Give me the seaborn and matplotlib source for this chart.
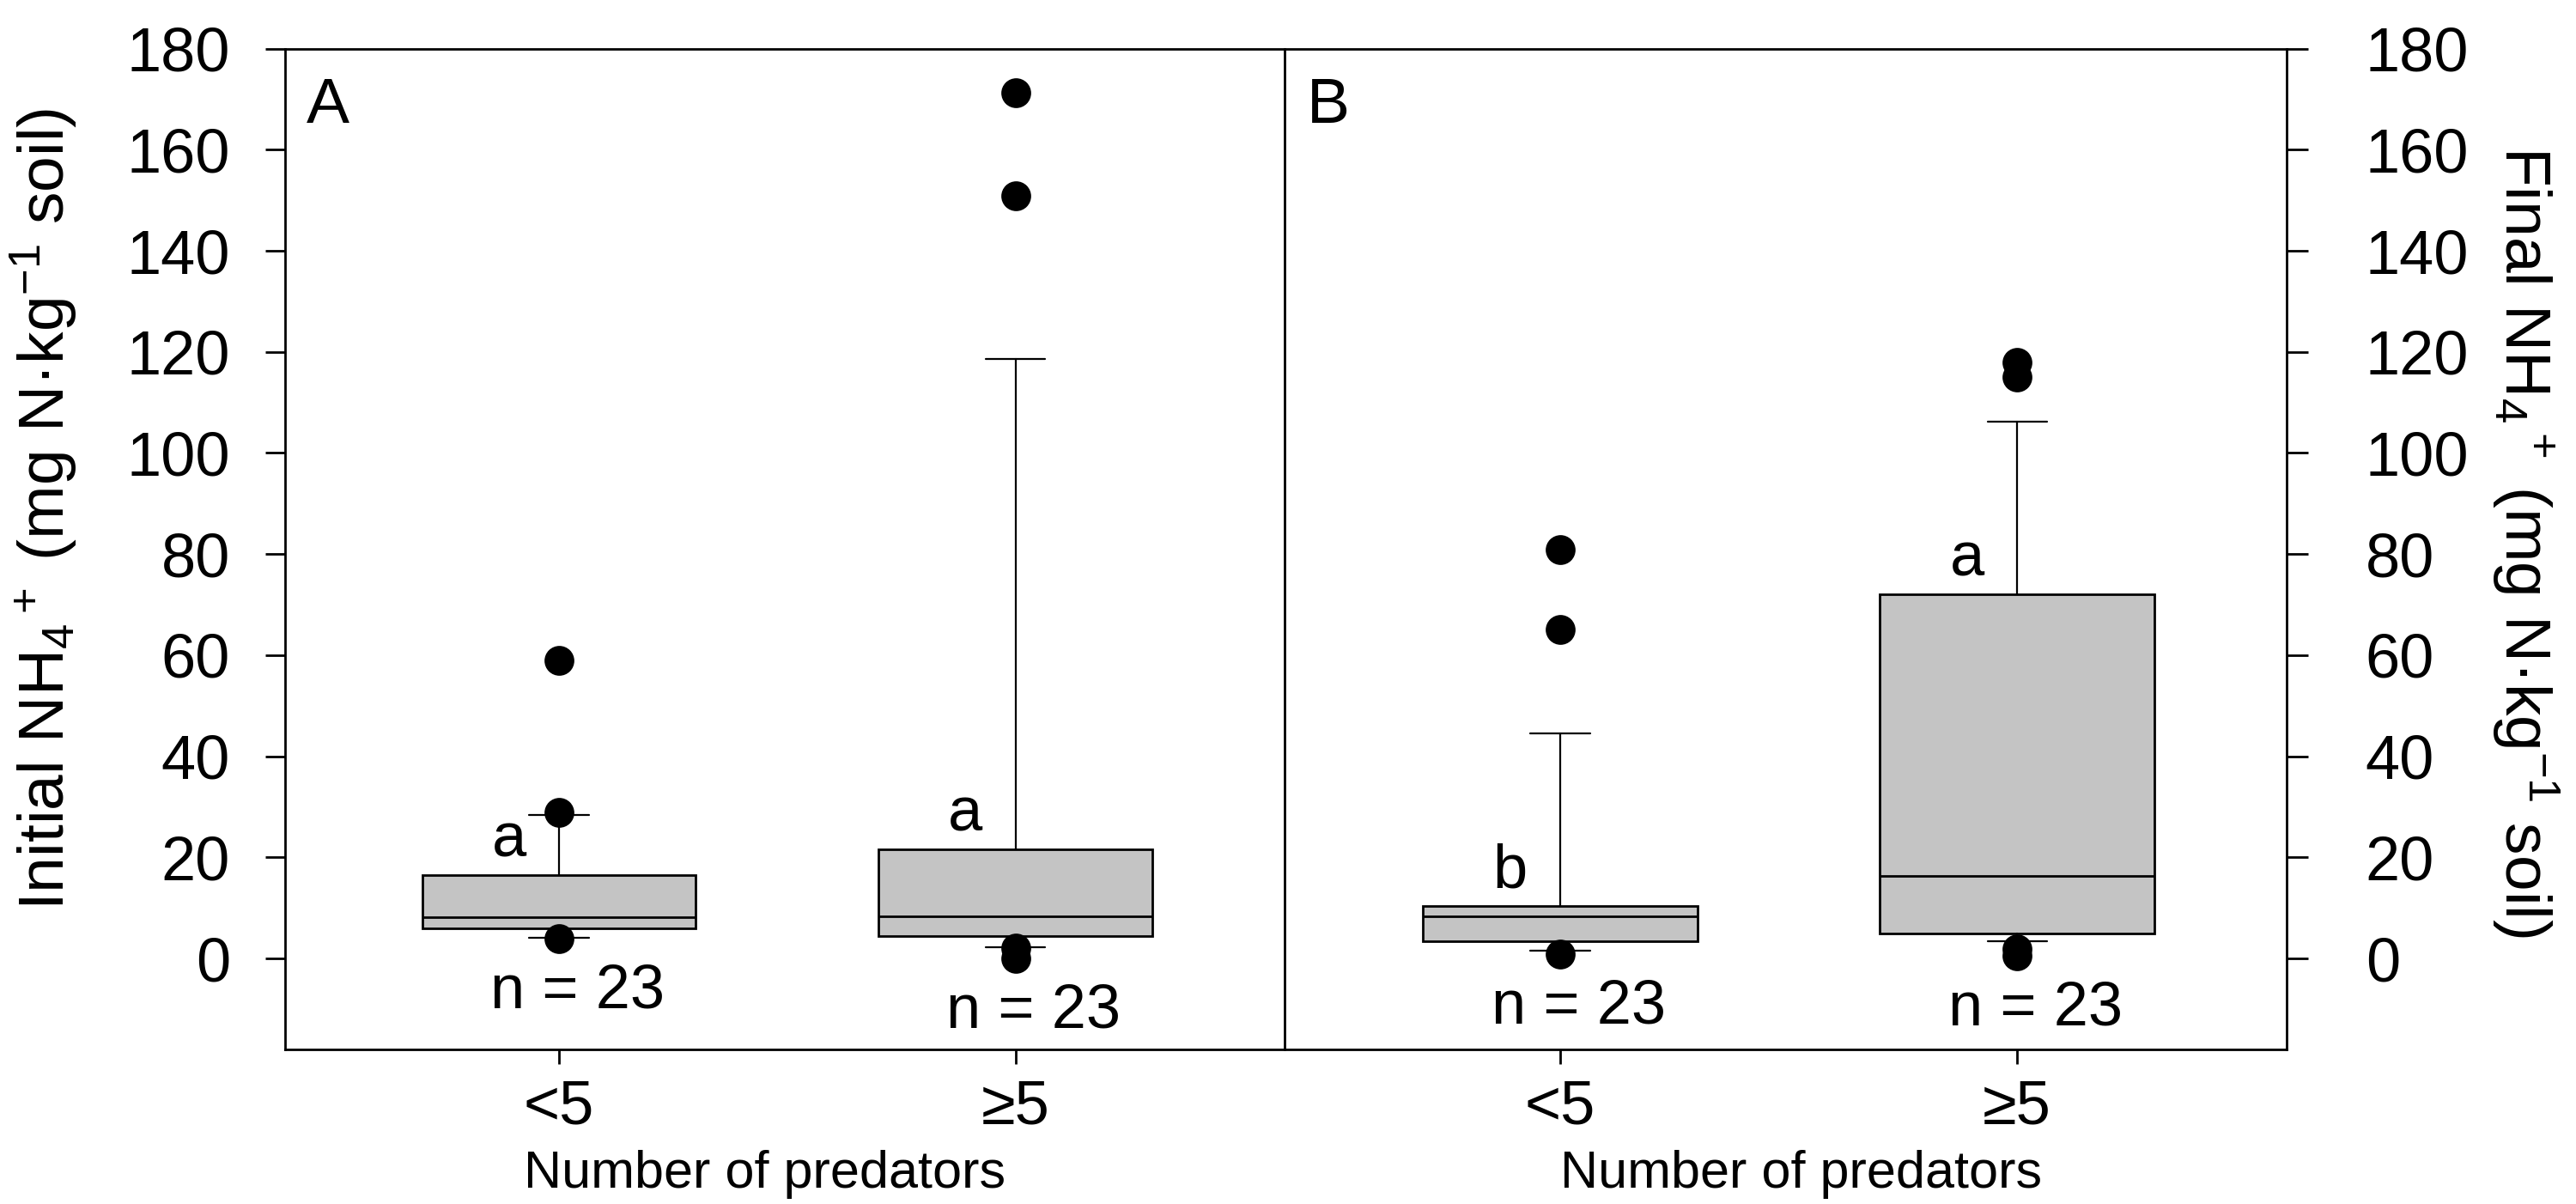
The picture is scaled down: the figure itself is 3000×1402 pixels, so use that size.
# Box plots of initial and final NH4+ by number of predators (two panels)
import pandas as pd
import seaborn as sns
import matplotlib.pyplot as plt

categories = ["<5", "≥5"]
n_obs = [23, 23]

# panel A: initial NH4+ (summary stats)
init_q1 = [5.9, 4.5]
init_med = [8.1, 8.4]
init_q3 = [16.5, 21.6]
init_whislo = [4.1, 2.3]
init_whishi = [28.4, 118.6]
init_fliers = [[58.9, 28.9, 3.9], [171.2, 150.8, 2.0, 0.0]]
init_letters = ["a", "a"]

# panel B: final NH4+
final_q1 = [3.4, 4.9]
final_med = [8.4, 16.4]
final_q3 = [10.4, 72.1]
final_whislo = [1.6, 3.4]
final_whishi = [44.6, 106.2]
final_fliers = [[80.8, 65.1, 0.8], [118.0, 115.1, 1.8, 0.5]]
final_letters = ["b", "a"]

sns.set_theme(style="ticks", rc={
    "axes.edgecolor": "black",
    "text.color": "black",
    "axes.labelcolor": "black",
    "xtick.color": "black",
    "ytick.color": "black",
})
plt.rcParams["font.family"] = ["Liberation Sans", "DejaVu Sans"]
plt.rcParams["mathtext.fontset"] = "custom"
plt.rcParams["mathtext.rm"] = "Liberation Sans"
plt.rcParams["mathtext.it"] = "Liberation Sans:italic"
plt.rcParams["mathtext.default"] = "regular"

fig = plt.figure(figsize=(15, 7.01), dpi=200)
ax1 = fig.add_axes([0.1107, 0.1284, 0.3880, 0.8312])
ax2 = fig.add_axes([0.4992, 0.1284, 0.3885, 0.8312])


def draw_panel(ax, q1, med, q3, lo, hi, fliers, letters, tag):
    stats = [dict(q1=q1[i], med=med[i], q3=q3[i], whislo=lo[i],
                  whishi=hi[i], fliers=[]) for i in range(len(categories))]
    ax.bxp(stats, positions=[0, 1], widths=0.6, capwidths=0.13,
           patch_artist=True, manage_ticks=False, showfliers=False,
           boxprops=dict(facecolor="#c4c4c4", edgecolor="black", linewidth=1.0),
           medianprops=dict(color="black", linewidth=1.0),
           whiskerprops=dict(color="black", linewidth=0.8),
           capprops=dict(color="black", linewidth=0.8))

    pts = pd.DataFrame({
        "group": [categories[i] for i in range(len(categories)) for _ in fliers[i]],
        "value": [v for f in fliers for v in f],
    })
    sns.stripplot(data=pts, x="group", y="value", order=categories,
                  jitter=False, color="black", size=12.5, linewidth=0,
                  ax=ax, zorder=3)

    for i in range(len(categories)):
        ax.text(i - 0.11, q3[i] + 3.6, letters[i], ha="center",
                va="baseline", fontsize=26)
        ax.text(i + 0.04, min(fliers[i]) - 10.5, f"n = {n_obs[i]}",
                ha="center", va="center", fontsize=26)

    ax.text(0.021, 0.972, tag, transform=ax.transAxes, ha="left", va="top",
            fontsize=27)

    ax.set_xlim(-0.6, 1.59)
    ax.set_ylim(-18, 180)
    ax.set_yticks(range(0, 181, 20))
    ax.set_xticks([0, 1], categories)
    for s in ax.spines.values():
        s.set_visible(True)
        s.set_linewidth(1.0)
        s.set_color("black")
    ax.tick_params(axis="x", bottom=True, top=False, length=6.1, width=1.0,
                   pad=6.5, labelsize=26)
    ax.set_xlabel("Number of predators", fontsize=22)


draw_panel(ax1, init_q1, init_med, init_q3, init_whislo, init_whishi,
           init_fliers, init_letters, "A")
draw_panel(ax2, final_q1, final_med, final_q3, final_whislo, final_whishi,
           final_fliers, final_letters, "B")

# panels share the middle frame line
ax2.spines["left"].set_visible(False)

ax1.tick_params(axis="y", left=True, right=False, length=8.3, width=1.0,
                pad=14.8, labelsize=26)
ax1.set_ylabel(r"Initial NH$_4$$^+$ (mg N·kg$^{-1}$ soil)", fontsize=27)
ax1.yaxis.set_label_coords(-0.206, 0.54)
ax1.xaxis.set_label_coords(0.48, -0.100)

ax2.yaxis.tick_right()
ax2.yaxis.set_label_position("right")
ax2.tick_params(axis="y", left=False, right=True, labelleft=False,
                labelright=True, length=9, width=1.0, pad=24, labelsize=26)
ax2.set_ylabel(r"Final NH$_4$$^+$ (mg N·kg$^{-1}$ soil)", fontsize=27,
               rotation=270, va="bottom")
ax2.yaxis.set_label_coords(1.2033, 0.507)
ax2.xaxis.set_label_coords(0.515, -0.100)

fig.savefig("out.png", dpi=200)
